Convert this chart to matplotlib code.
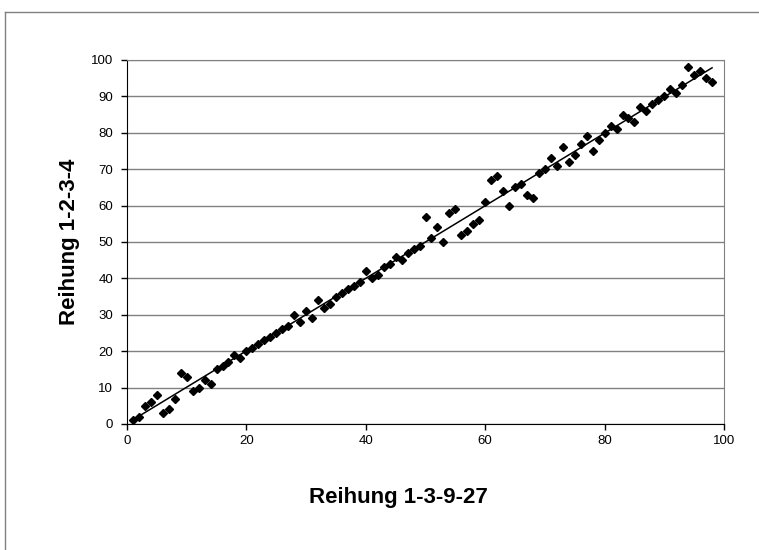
import matplotlib
matplotlib.use("Agg")
import matplotlib.pyplot as plt
import numpy as np

plt.rcParams['font.family'] = ['Liberation Sans', 'DejaVu Sans']

# rank by series 1-3-9-27 vs rank by series 1-2-3-4
rank_x = list(range(1, 99))
rank_y = [1, 2, 5, 6, 8, 3, 4, 7, 14, 13,
          9, 10, 12, 11, 15, 16, 17, 19, 18, 20,
          21, 22, 23, 24, 25, 26, 27, 30, 28, 31,
          29, 34, 32, 33, 35, 36, 37, 38, 39, 42,
          40, 41, 43, 44, 46, 45, 47, 48, 49, 57,
          51, 54, 50, 58, 59, 52, 53, 55, 56, 61,
          67, 68, 64, 60, 65, 66, 63, 62, 69, 70,
          73, 71, 76, 72, 74, 77, 79, 75, 78, 80,
          82, 81, 85, 84, 83, 87, 86, 88, 89, 90,
          92, 91, 93, 98, 96, 97, 95, 94]

x = np.array(rank_x)
y = np.array(rank_y)
slope, icpt = np.polyfit(x, y, 1)

W, H = 759, 550
L, R, B, T = 127, 724, 424, 60

fig = plt.figure(figsize=(W/100, H/100), dpi=100)
ax = fig.add_axes([L/W, 1-B/H, (R-L)/W, (B-T)/H])

ax.set_xlim(0, 100)
ax.set_ylim(0, 100)
ax.set_xticks(range(0, 101, 20))
ax.set_yticks(range(0, 101, 10))
ax.yaxis.grid(True, color='#808080', lw=1)
ax.set_axisbelow(True)

ax.plot(x, y, 'D', color='black', ms=4.5, zorder=3)
xs = np.array([x.min(), x.max()])
ax.plot(xs, slope*xs + icpt, color='black', lw=1.1, zorder=2)

for s in ['top', 'right']:
    ax.spines[s].set_color('#808080')
for s in ['left', 'bottom']:
    ax.spines[s].set_color('black')
ax.tick_params(direction='out', length=4, labelsize=9.5, color='black', width=1)
ax.tick_params(axis='y', pad=6)
ax.tick_params(axis='x', pad=4)

ax.set_xlabel('Reihung 1-3-9-27', fontsize=16, fontweight='bold')
ax.set_ylabel('Reihung 1-2-3-4', fontsize=16, fontweight='bold')
ax.xaxis.set_label_coords(0.455, -(497-B)/(B-T))
ax.yaxis.set_label_coords(-(L-70)/(R-L), 0.5)
ax.xaxis.label.set_va('center')
ax.yaxis.label.set_va('center')

# outer chart frame
fig.add_artist(plt.Line2D([5/W, 1], [1-12/H, 1-12/H], color='#808080', lw=1))
fig.add_artist(plt.Line2D([5/W, 5/W], [0, 1-12/H], color='#808080', lw=1))

fig.savefig('out.png', dpi=100)
